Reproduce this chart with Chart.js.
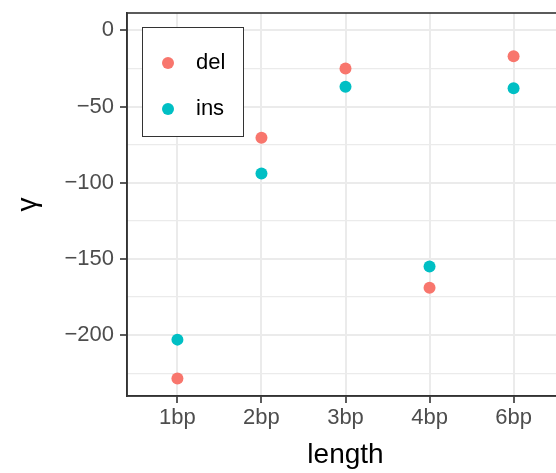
<!DOCTYPE html>
<html>
<head>
<meta charset="utf-8">
<script src="https://cdn.jsdelivr.net/npm/chart.js@4"></script>
<style>
  html, body { margin: 0; padding: 0; overflow: hidden; background: #fff; }
  #wrap { width: 556px; height: 473px; overflow: hidden; }
</style>
</head>
<body>
<div id="wrap"><canvas id="myChart" width="570" height="473"></canvas></div>
<script>
// data
const lengths = ['1bp', '2bp', '3bp', '4bp', '6bp'];
const delValues = [-228.5, -70.5, -25, -169, -17];
const insValues = [-203, -94, -37, -155, -38];
const seriesNames = ['del', 'ins'];
const seriesColors = ['#F8766D', '#00BFC4'];
const yTicks = [0, -25, -50, -75, -100, -125, -150, -175, -200, -225];

const FONT = '"Liberation Sans", Arial, sans-serif';

function toPoints(values) {
    return values.map((v, i) => ({ x: i + 1, y: v }));
}

// panel border (top/right) and the boxed legend inside the panel
const panelExtras = {
    id: 'panelExtras',
    afterDraw(chart) {
        const { ctx, chartArea } = chart;
        ctx.save();
        ctx.strokeStyle = '#333333';
        ctx.lineWidth = 1.6;
        ctx.strokeRect(chartArea.left, chartArea.top, chartArea.right - chartArea.left, chartArea.bottom - chartArea.top);

        // legend
        ctx.fillStyle = '#ffffff';
        ctx.fillRect(142, 27, 101, 109);
        ctx.strokeStyle = '#333333';
        ctx.lineWidth = 1;
        ctx.strokeRect(142.5, 27.5, 101, 109);
        const rowY = [63, 109];
        chart.data.datasets.forEach((ds, i) => {
            ctx.beginPath();
            ctx.arc(168, rowY[i], 6, 0, Math.PI * 2);
            ctx.fillStyle = ds.backgroundColor;
            ctx.fill();
            ctx.fillStyle = '#000000';
            ctx.font = '22px ' + FONT;
            ctx.textBaseline = 'middle';
            ctx.textAlign = 'left';
            ctx.fillText(ds.label, 196, rowY[i]);
        });
        ctx.restore();
    }
};

const ctx = document.getElementById('myChart').getContext('2d');

const myChart = new Chart(ctx, {
    type: 'scatter',
    data: {
        datasets: [{
            label: seriesNames[0],
            data: toPoints(delValues),
            backgroundColor: seriesColors[0],
            borderWidth: 0,
            pointRadius: 6
        }, {
            label: seriesNames[1],
            data: toPoints(insValues),
            backgroundColor: seriesColors[1],
            borderWidth: 0,
            pointRadius: 6
        }]
    },
    options: {
        responsive: false,
        animation: false,
        events: [],
        layout: { padding: { top: 13, right: 2, bottom: 0, left: 0 } },
        plugins: {
            legend: { display: false },
            tooltip: { enabled: false }
        },
        scales: {
            x: {
                type: 'linear',
                min: 0.4,
                max: 5.6,
                afterBuildTicks: (scale) => {
                    scale.ticks = lengths.map((_, i) => ({ value: i + 1 }));
                },
                afterFit: (scale) => {
                    scale.height = 77;
                    scale.paddingLeft = 0;
                    scale.paddingRight = 0;
                },
                ticks: {
                    callback: (value) => lengths[value - 1],
                    color: '#4D4D4D',
                    font: { family: FONT, size: 22 },
                    padding: 2,
                    maxRotation: 0,
                    autoSkip: false
                },
                grid: {
                    color: '#EBEBEB',
                    lineWidth: 2,
                    tickColor: '#333333',
                    tickLength: 7,
                    tickWidth: 1.6
                },
                border: { color: '#333333', width: 1.6 },
                title: {
                    display: true,
                    text: 'length',
                    color: '#000000',
                    font: { family: FONT, size: 28 },
                    padding: { top: 0, bottom: 1 }
                }
            },
            y: {
                min: -240,
                max: 11.4,
                afterBuildTicks: (scale) => {
                    scale.ticks = yTicks.map(v => ({ value: v }));
                },
                afterFit: (scale) => {
                    scale.width = 127;
                    scale.paddingTop = 0;
                    scale.paddingBottom = 0;
                },
                ticks: {
                    callback: (value) => value % 50 === 0 ? String(value).replace('-', '\u2212') : '',
                    color: '#4D4D4D',
                    font: { family: FONT, size: 22 },
                    padding: 6,
                    autoSkip: false
                },
                grid: {
                    color: '#EBEBEB',
                    lineWidth: (c) => c.tick && c.tick.value % 50 === 0 ? 2 : 1.2,
                    tickColor: (c) => c.tick && c.tick.value % 50 === 0 ? '#333333' : 'rgba(0,0,0,0)',
                    tickLength: 7,
                    tickWidth: 1.6
                },
                border: { color: '#333333', width: 1.6 },
                title: {
                    display: true,
                    text: '\u03B3',
                    color: '#000000',
                    font: { family: FONT, size: 28 },
                    padding: { top: 11, bottom: 0 }
                }
            }
        }
    },
    plugins: [panelExtras]
});
</script>
</body>
</html>
